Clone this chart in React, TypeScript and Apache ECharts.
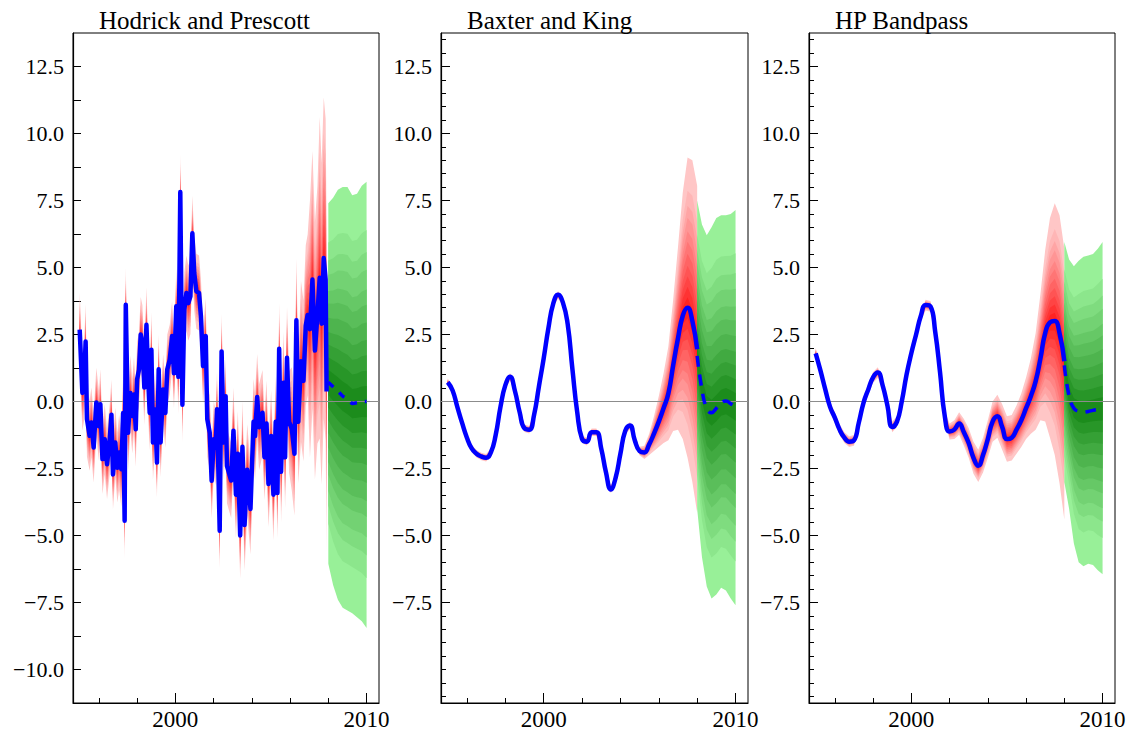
import React, { useEffect, useRef } from "react";
import * as echarts from "echarts";

const SERIF = "'Liberation Serif', 'Times New Roman', Times, serif";
const X_MIN = 1994.65;
const X_MAX = 2010.65;
const Y_MIN = -11.25;
const Y_MAX = 13.75;

const panelTitles = ["Hodrick and Prescott", "Baxter and King", "HP Bandpass"];
const xTickLabels = [2000, 2010];
const xMinorTicks = [1996, 1998, 2002, 2004, 2006, 2008];
const yTickLabelsHP = [12.5, 10, 7.5, 5, 2.5, 0, -2.5, -5, -7.5, -10];
const yTickLabelsBK = [12.5, 10, 7.5, 5, 2.5, 0, -2.5, -5, -7.5];
const yMinorTicksHP = [-8.75, -6.25, -3.75, -1.25, 1.25, 3.75, 6.25, 8.75, 11.25];
const yMinorTicksBK = [
  -11, -10.5, -10, -9.5, -9, -8.5, -8, -7, -6.5, -6, -5.5, -4.5, -4, -3.5, -3, -2,
  -1.5, -1, -0.5, 0.5, 1, 1.5, 2, 3, 3.5, 4, 4.5, 5.5, 6, 6.5, 7, 8, 8.5, 9, 9.5,
  10.5, 11, 11.5, 12, 13, 13.5,
];

// Hodrick-Prescott cycle (monthly-ish observations)
const hpDates = [
  1995.0, 1995.14, 1995.23, 1995.31, 1995.38, 1995.52, 1995.61, 1995.73, 1995.87, 1996.01,
  1996.08, 1996.19, 1996.31, 1996.43, 1996.57, 1996.66, 1996.74, 1996.86, 1996.97, 1997.06,
  1997.18, 1997.27, 1997.35, 1997.41, 1997.53, 1997.65, 1997.75, 1997.84, 1997.93, 1998.0,
  1998.1, 1998.19, 1998.28, 1998.38, 1998.49, 1998.59, 1998.66, 1998.75, 1998.83, 1998.94,
  1999.04, 1999.13, 1999.23, 1999.36, 1999.48, 1999.58, 1999.71, 1999.83, 1999.93, 2000.05,
  2000.16, 2000.26, 2000.37, 2000.47, 2000.58, 2000.68, 2000.79, 2000.89, 2000.99, 2001.1,
  2001.24, 2001.34, 2001.45, 2001.59, 2001.67, 2001.8, 2001.9, 2002.01, 2002.11, 2002.18,
  2002.32, 2002.42, 2002.53, 2002.63, 2002.7, 2002.92, 2003.04, 2003.17, 2003.27, 2003.39,
  2003.51, 2003.62, 2003.76, 2003.93, 2004.09, 2004.17, 2004.28, 2004.38, 2004.56, 2004.66,
  2004.77, 2004.87, 2005.01, 2005.13, 2005.25, 2005.34, 2005.43, 2005.53, 2005.65, 2005.74,
  2005.84, 2005.95, 2006.09, 2006.23, 2006.33, 2006.43, 2006.57, 2006.7, 2006.82, 2006.92,
  2007.04, 2007.17, 2007.3, 2007.43, 2007.55, 2007.65, 2007.76, 2007.86, 2007.91,
];
const hpValues = [
  2.68, 0.32, 0.69, 2.24, -0.66, -1.28, -0.78, -1.72, -0.04, -0.92,
  -0.1, -2.15, -1.41, -2.34, -1.41, -0.49, -2.72, -1.53, -2.47, -1.9,
  -2.53, -0.43, -4.45, 3.61, -1.17, 0.32, -0.54, 0.26, -1.04, 0.82,
  1.19, 2.5, 2.19, 0.52, 2.86, 0.69, -0.43, 1.93, -1.53, -0.3,
  -2.28, 1.2, -1.53, 0.45, -0.43, 1.2, 1.57, 2.44, 1.05, 3.55,
  0.92, 7.82, -0.12, 3.42, 4.05, 3.67, 3.92, 6.28, 4.79, 4.11,
  4.05, 3.17, 1.32, 2.44, -0.66, -1.17, -2.96, -1.41, -1.72, -0.29,
  -4.82, 1.87, -1.53, 0.2, -2.4, -2.95, -1.09, -3.48, -1.95, -5.0,
  -1.69, -4.61, -2.55, -4.01, -0.76, -1.29, 0.17, -0.96, -0.42, -2.08,
  -0.82, -3.08, -1.29, -3.48, -0.76, -3.41, 1.97, -2.62, 0.7, -2.08,
  1.63, -0.76, -1.02, -1.95, 3.03, -0.76, 1.5, 0.77, 2.83, 3.23,
  2.7, 4.55, 1.9, 3.23, 4.62, 2.9, 5.35, 4.55, 0.37,
];
// half-yearly uncertainty half-width of the HP cycle, from 1995.0
const hpSpreadStart = 1995;
const hpSpread = [
  1.4, 1.3, 1.3, 1.3, 1.4, 1.4, 1.4, 1.4, 1.3, 1.3, 1.4, 1.4, 1.4,
  1.4, 1.4, 1.4, 1.6, 1.7, 1.6, 1.6, 1.7, 1.9, 2.3, 3.0, 4.8, 6.0,
];

// quarterly grid for the band-pass filters
const quarters = [
  1995, 1995.25, 1995.5, 1995.75, 1996, 1996.25, 1996.5, 1996.75, 1997, 1997.25, 1997.5, 1997.75,
  1998, 1998.25, 1998.5, 1998.75, 1999, 1999.25, 1999.5, 1999.75, 2000, 2000.25, 2000.5, 2000.75,
  2001, 2001.25, 2001.5, 2001.75, 2002, 2002.25, 2002.5, 2002.75, 2003, 2003.25, 2003.5, 2003.75,
  2004, 2004.25, 2004.5, 2004.75, 2005, 2005.25, 2005.5, 2005.75, 2006, 2006.25, 2006.5, 2006.75,
  2007, 2007.25, 2007.5, 2007.75, 2008,
];
const bkValues = [
  0.72, 0.42, -0.2, -0.8, -1.35, -1.75, -1.95, -2.05, -2.1, -1.9, -1.25, -0.2,
  0.6, 0.92, 0.4, -0.4, -1.0, -1.05, -0.5, 0.55, 1.6, 2.75, 3.65, 3.98,
  3.7, 2.9, 1.2, -0.4, -1.4, -1.5, -1.15, -1.15, -1.75, -2.65, -3.28, -2.85,
  -1.95, -1.1, -0.9, -1.45, -1.85, -1.9, -1.6, -1.2, -0.75, -0.25, 0.3, 1.35,
  2.35, 3.2, 3.5, 3.0, 1.95,
];
const bkSpread = [
  0.14, 0.14, 0.14, 0.14, 0.14, 0.14, 0.14, 0.14, 0.14, 0.14, 0.14, 0.14,
  0.14, 0.14, 0.14, 0.14, 0.14, 0.14, 0.14, 0.14, 0.14, 0.14, 0.14, 0.14,
  0.14, 0.14, 0.14, 0.14, 0.14, 0.14, 0.14, 0.14, 0.14, 0.14, 0.14, 0.14,
  0.14, 0.14, 0.14, 0.14, 0.16, 0.25, 0.4, 0.65, 0.95, 1.3, 1.75, 2.45,
  3.4, 4.6, 5.6, 6.0, 6.1,
];
const bpValues = [
  1.8, 1.15, 0.45, -0.2, -0.6, -1.05, -1.35, -1.5, -1.45, -0.8, -0.05, 0.45,
  0.9, 1.08, 0.6, -0.15, -0.95, -0.75, 0.0, 1.0, 1.8, 2.5, 3.2, 3.6,
  3.55, 2.6, 1.1, -0.55, -1.12, -1.05, -0.82, -1.15, -1.55, -2.1, -2.4, -2.0,
  -1.4, -0.75, -0.55, -0.95, -1.4, -1.35, -1.05, -0.7, -0.25, 0.2, 0.75, 1.6,
  2.55, 2.95, 3.0, 2.55, 1.5,
];
const bpSpreadUp = [
  0.2, 0.2, 0.2, 0.2, 0.2, 0.2, 0.2, 0.2, 0.2, 0.2, 0.2, 0.2,
  0.2, 0.2, 0.2, 0.2, 0.2, 0.2, 0.2, 0.2, 0.2, 0.2, 0.2, 0.2,
  0.2, 0.2, 0.2, 0.2, 0.3, 0.35, 0.42, 0.5, 0.55, 0.6, 0.6, 0.65,
  0.7, 0.75, 0.8, 0.85, 0.85, 0.85, 0.9, 1.0, 1.15, 1.4, 1.8, 2.4,
  3.1, 3.9, 4.4, 4.4, 4.2,
];
const bpSpreadDown = [
  0.2, 0.2, 0.2, 0.2, 0.2, 0.2, 0.2, 0.2, 0.2, 0.2, 0.2, 0.2,
  0.2, 0.2, 0.2, 0.2, 0.2, 0.2, 0.2, 0.2, 0.2, 0.2, 0.2, 0.2,
  0.2, 0.2, 0.2, 0.2, 0.3, 0.35, 0.42, 0.5, 0.55, 0.6, 0.6, 0.65,
  0.7, 0.75, 0.8, 0.85, 0.85, 0.85, 0.9, 1.0, 1.15, 1.4, 1.8, 2.3,
  3.3, 4.3, 5.0, 5.6, 5.9,
];

// forecasts 2008-2010
const forecastDates = [2008, 2008.25, 2008.5, 2008.75, 2009, 2009.25, 2009.5, 2009.75, 2010];
const hpFcCenter = [0.72, 0.55, 0.38, 0.2, 0.08, -0.08, -0.05, 0.0, 0.0];
const hpFcUpper = [7.4, 7.6, 7.9, 8.0, 8.0, 7.7, 7.75, 8.05, 8.2];
const hpFcLower = [-6.05, -6.85, -7.4, -7.7, -7.8, -7.9, -8.05, -8.2, -8.45];
const bkFcCenter = [1.7, 0.45, -0.25, -0.42, -0.25, -0.05, 0.02, -0.08, -0.2];
const bkFcUpper = [7.5, 6.6, 6.2, 6.5, 6.85, 6.95, 6.95, 7.0, 7.15];
const bkFcLower = [-4.0, -5.8, -6.9, -7.35, -7.2, -6.95, -7.05, -7.35, -7.6];
const bpFcCenter = [1.35, 0.2, -0.25, -0.37, -0.4, -0.37, -0.33, -0.3, -0.28];
const bpFcUpper = [5.95, 5.3, 5.05, 5.25, 5.4, 5.45, 5.5, 5.7, 5.95];
const bpFcLower = [-3.0, -4.0, -5.3, -6.0, -6.15, -6.05, -6.1, -6.3, -6.45];

// fraction of the outer half-width reached by each shaded band (outer -> inner)
const bandFractions = [1, 0.78, 0.68, 0.6, 0.51, 0.44, 0.36, 0.28, 0.21, 0.14, 0.07];

const RED_LIGHT = [255, 198, 198];
const RED_DARK = [255, 35, 35];
const GREEN_LIGHT = [152, 240, 152];
const GREEN_DARK = [28, 140, 28];

const gridLeft = [73, 441, 809];
const gridWidth = [306, 307, 306];
const GRID_TOP = 33;
const GRID_HEIGHT = 670;

function shades(light: number[], dark: number[]) {
  const n = bandFractions.length;
  return bandFractions.map((_, k) => {
    const t = k / (n - 1);
    const c = light.map((l, j) => Math.round(l + (dark[j] - l) * t));
    return `rgb(${c[0]},${c[1]},${c[2]})`;
  });
}

// one custom series per fan; each data item is one shaded band (polygon)
function fanSeries(
  g: number,
  xs: number[],
  center: number[],
  up: number[],
  down: number[],
  colors: string[]
) {
  return {
    type: "custom",
    xAxisIndex: 2 * g,
    yAxisIndex: 2 * g,
    silent: true,
    z: 2,
    clip: true,
    encode: { x: 0, y: 1 },
    data: bandFractions.map((f, k) => [xs[0], center[0], k]),
    renderItem: (params: any, api: any) => {
      const k = api.value(2);
      const f = bandFractions[k];
      const pts: number[][] = [];
      for (let i = 0; i < xs.length; i++) pts.push(api.coord([xs[i], center[i] + f * up[i]]));
      for (let i = xs.length - 1; i >= 0; i--) pts.push(api.coord([xs[i], center[i] - f * down[i]]));
      return {
        type: "polygon",
        shape: { points: pts },
        style: { fill: colors[k], stroke: null },
      };
    },
  };
}

function fmt(v: number) {
  const s = Math.abs(v).toFixed(1);
  return v < 0 ? "\u2212" + s : s;
}

export default function App() {
  const ref = useRef<HTMLDivElement>(null);

  useEffect(() => {
    if (!ref.current) return;
    const chart = echarts.init(ref.current, undefined, { renderer: "svg" });

    const redShades = shades(RED_LIGHT, RED_DARK);
    const greenShades = shades(GREEN_LIGHT, GREEN_DARK);
    const hpSpreadPts = hpDates.map(
      (t) => hpSpread[Math.min(hpSpread.length - 1, Math.floor((t - hpSpreadStart) * 2 + 1e-9))]
    );

    const panels = [
      {
        dates: hpDates, values: hpValues, up: hpSpreadPts, down: hpSpreadPts, smooth: false,
        fcC: hpFcCenter, fcU: hpFcUpper, fcL: hpFcLower,
        yLabels: yTickLabelsHP, yMinor: yMinorTicksHP, majorLen: 8, minorLen: 8, lw: 4.5, dash: [7, 8],
      },
      {
        dates: quarters, values: bkValues, up: bkSpread, down: bkSpread, smooth: true,
        fcC: bkFcCenter, fcU: bkFcUpper, fcL: bkFcLower,
        yLabels: yTickLabelsBK, yMinor: yMinorTicksBK, majorLen: 9, minorLen: 5, lw: 4.5, dash: [11, 8],
      },
      {
        dates: quarters, values: bpValues, up: bpSpreadUp, down: bpSpreadDown, smooth: true,
        fcC: bpFcCenter, fcU: bpFcUpper, fcL: bpFcLower,
        yLabels: yTickLabelsBK, yMinor: yMinorTicksBK, majorLen: 9, minorLen: 5, lw: 4.5, dash: [11, 8],
      },
    ];

    const grid: any[] = [];
    const xAxis: any[] = [];
    const yAxis: any[] = [];
    const series: any[] = [];
    const title: any[] = [];

    const yLabelStyle = { fontFamily: SERIF, fontSize: 22, color: "#000" };
    const xLabelStyle = { fontFamily: SERIF, fontSize: 23, color: "#000" };

    panels.forEach((p, g) => {
      grid.push({
        left: gridLeft[g], top: GRID_TOP, width: gridWidth[g], height: GRID_HEIGHT,
        show: true, borderColor: "#000", borderWidth: 1, backgroundColor: "transparent",
        containLabel: false, outerBoundsMode: "none",
      });
      title.push({
        text: panelTitles[g], left: gridLeft[g] + 26, top: 8, padding: 0,
        textStyle: { fontFamily: SERIF, fontSize: 25, fontWeight: "normal", color: "#000" },
      });
      xAxis.push({
        gridIndex: g, type: "value", min: X_MIN, max: X_MAX, position: "bottom",
        axisLine: { show: true, onZero: false, lineStyle: { color: "#000", width: 1.2 } },
        axisTick: { show: true, inside: true, length: 10, customValues: xTickLabels, lineStyle: { color: "#000", width: 1 } },
        axisLabel: { show: true, customValues: xTickLabels, formatter: (v: number) => String(v), margin: 5, ...xLabelStyle },
        splitLine: { show: false },
      });
      xAxis.push({
        gridIndex: g, type: "value", min: X_MIN, max: X_MAX, position: "bottom",
        axisLine: { show: false, onZero: false },
        axisTick: { show: true, inside: true, length: 5, customValues: xMinorTicks, lineStyle: { color: "#000", width: 1 } },
        axisLabel: { show: false },
        splitLine: { show: false },
      });
      yAxis.push({
        gridIndex: g, type: "value", min: Y_MIN, max: Y_MAX, position: "left",
        axisLine: { show: true, onZero: false, lineStyle: { color: "#000", width: 1.2 } },
        axisTick: { show: true, inside: true, length: p.majorLen, customValues: p.yLabels, lineStyle: { color: "#000", width: 1 } },
        axisLabel: { show: true, customValues: p.yLabels, formatter: fmt, margin: 9, ...yLabelStyle },
        splitLine: { show: false },
      });
      yAxis.push({
        gridIndex: g, type: "value", min: Y_MIN, max: Y_MAX, position: "left",
        axisLine: { show: false, onZero: false },
        axisTick: { show: true, inside: true, length: p.minorLen, customValues: p.yMinor, lineStyle: { color: "#000", width: 1 } },
        axisLabel: { show: false },
        splitLine: { show: false },
      });

      // in-sample uncertainty (red)
      series.push(fanSeries(g, p.dates, p.values, p.up, p.down, redShades));
      // forecast uncertainty (green)
      const fu = p.fcU.map((u, i) => u - p.fcC[i]);
      const fd = p.fcL.map((l, i) => p.fcC[i] - l);
      series.push(fanSeries(g, forecastDates, p.fcC, fu, fd, greenShades));

      // zero reference line
      series.push({
        type: "line", xAxisIndex: 2 * g, yAxisIndex: 2 * g, silent: true, symbol: "none", z: 3,
        data: [[X_MIN, 0], [X_MAX, 0]],
        lineStyle: { color: "#8c8c8c", width: 1 },
      });
      // estimated cycle
      series.push({
        type: "line", xAxisIndex: 2 * g, yAxisIndex: 2 * g, silent: true, symbol: "none", z: 4,
        smooth: p.smooth,
        data: p.dates.map((t, i) => [t, p.values[i]]),
        lineStyle: { color: "#0000ff", width: p.lw, join: "round" },
      });
      // forecast of the cycle
      series.push({
        type: "line", xAxisIndex: 2 * g, yAxisIndex: 2 * g, silent: true, symbol: "none", z: 4,
        smooth: p.smooth,
        data: forecastDates.map((t, i) => [t, p.fcC[i]]),
        lineStyle: { color: "#0000ff", width: 3.5, type: p.dash },
      });
    });

    chart.setOption({
      animation: false,
      backgroundColor: "#fff",
      title,
      grid,
      xAxis,
      yAxis,
      series,
    });

    return () => chart.dispose();
  }, []);

  return (
    <div
      ref={ref}
      style={{ position: "absolute", left: 0, top: 0, width: 1133, height: 734 }}
    />
  );
}
